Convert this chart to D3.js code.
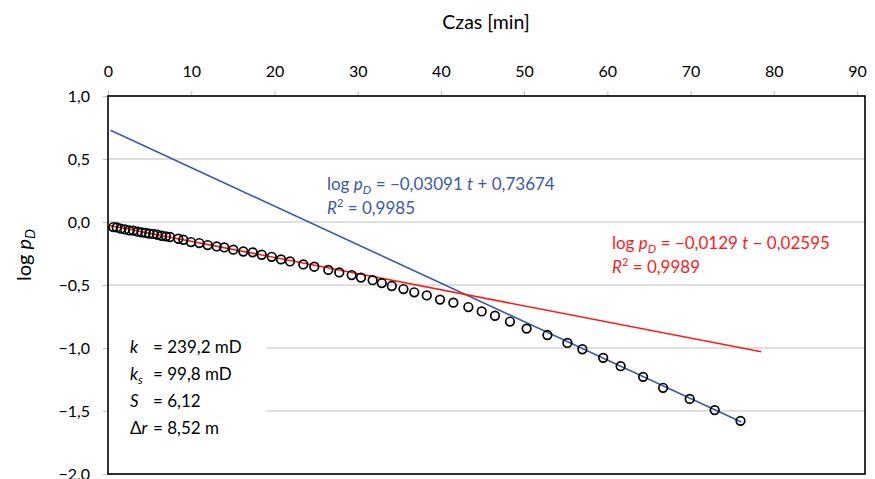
<!DOCTYPE html>
<html><head><meta charset="utf-8">
<script src="https://cdn.jsdelivr.net/npm/d3@7"></script>
<style>body{margin:0;background:#fff}svg{display:block}text{font-family:Lato,"Open Sans",sans-serif}</style>
</head><body>
<svg id="c" width="875" height="479"></svg>
<script>
// Data
const tMin = [0.64,1.05,1.53,2.04,2.56,3.04,3.57,4.05,4.53,4.96,5.44,5.92,6.45,6.97,7.45,
  8.45,9.05,9.97,10.97,11.98,13.06,13.97,15.06,16.26,17.39,18.47,19.67,20.79,21.87,
  23.47,24.79,26.47,27.79,29.28,30.40,31.80,32.90,34.10,35.50,36.80,38.30,39.90,41.50,43.30,
  44.90,46.50,48.30,50.30,52.80,55.20,57.00,59.50,61.60,64.30,66.70,69.90,72.90,76.00];
const logPD = [-0.040,-0.043,-0.053,-0.059,-0.067,-0.069,-0.077,-0.083,-0.087,-0.093,-0.095,-0.101,-0.109,-0.114,-0.119,
  -0.133,-0.141,-0.159,-0.167,-0.183,-0.194,-0.202,-0.220,-0.234,-0.241,-0.260,-0.276,-0.297,-0.313,
  -0.337,-0.355,-0.380,-0.400,-0.421,-0.441,-0.462,-0.485,-0.508,-0.532,-0.558,-0.583,-0.616,-0.640,-0.675,
  -0.710,-0.744,-0.790,-0.846,-0.897,-0.960,-1.010,-1.078,-1.144,-1.229,-1.316,-1.404,-1.493,-1.578];
// trend line end points [t, logPD]
const redTrend = [[0, -0.026], [78.5, -1.03]];
const blueTrend = [[0.3, 0.728], [76.1, -1.588]];
const xTicks = [0,10,20,30,40,50,60,70,80,90];
const yTicks = [1.0,0.5,0.0,-0.5,-1.0,-1.5,-2.0];

const svg = d3.select("#c");
const L = 108, R = 865, T = 96, B = 474;
const x = d3.scaleLinear().domain([0, 90]).range([L, 857]);
const y = d3.scaleLinear().domain([-2, 1]).range([B, T]);
const fmt = v => d3.format(".1f")(v).replace(".", ",");

// gridlines
svg.append("g").selectAll("line").data(yTicks).join("line")
  .attr("x1", L).attr("x2", R).attr("y1", d => y(d)).attr("y2", d => y(d))
  .attr("stroke", "#bfbfbf").attr("stroke-width", 1);

// y axis ticks + labels
const yAxis = d3.axisLeft(y).tickValues(yTicks).tickFormat(fmt).tickSize(5).tickPadding(13);
const gy = svg.append("g").attr("transform", `translate(${L},0)`).call(yAxis);
gy.select(".domain").remove();
gy.selectAll(".tick line").attr("stroke", "#bfbfbf");
gy.selectAll("text").attr("font-size", 16).attr("fill", "#000").attr("font-family", "Lato");

// top x axis
const xAxis = d3.axisTop(x).tickValues(xTicks).tickFormat(d3.format("d")).tickSize(5).tickPadding(14);
const gx = svg.append("g").attr("transform", `translate(0,${T})`).call(xAxis);
gx.select(".domain").remove();
gx.selectAll(".tick line").attr("stroke", "#bfbfbf");
gx.selectAll("text").attr("font-size", 16).attr("fill", "#000").attr("font-family", "Lato");

// plot frame
svg.append("rect").attr("x", L).attr("y", T).attr("width", R - L).attr("height", B - T)
  .attr("fill", "none").attr("stroke", "#000").attr("stroke-width", 1.6);

// parameter text box background (covers gridlines)
svg.append("rect").attr("x", L + 1).attr("y", 330).attr("width", 157).attr("height", 120).attr("fill", "#fff");

const line = d3.line().x(d => x(d[0])).y(d => y(d[1]));
svg.append("path").attr("d", line(blueTrend)).attr("stroke", "#3b58a8").attr("stroke-width", 1.6).attr("fill", "none");
svg.append("path").attr("d", line(redTrend)).attr("stroke", "#ff1a1a").attr("stroke-width", 1.6).attr("fill", "none");

svg.append("g").selectAll("circle").data(tMin).join("circle")
  .attr("cx", d => x(d)).attr("cy", (d, i) => y(logPD[i])).attr("r", 4.3)
  .attr("fill", "none").attr("stroke", "#000").attr("stroke-width", 1.7);

// titles
svg.append("text").attr("x", 486).attr("y", 29).attr("text-anchor", "middle")
  .attr("font-size", 19.5).text("Czas [min]");
const yt = svg.append("text").attr("transform", "translate(31,255) rotate(-90)")
  .attr("text-anchor", "middle").attr("font-size", 20);
yt.append("tspan").text("log ");
yt.append("tspan").attr("font-style", "italic").text("p");
yt.append("tspan").attr("font-style", "italic").attr("font-size", 14).attr("dy", 4).text("D");

function eq(xp, yp, color, parts) {
  const t = svg.append("text").attr("x", xp).attr("y", yp).attr("font-size", 17).attr("fill", color);
  parts.forEach(p => {
    const s = t.append("tspan").text(p.t);
    if (p.i) s.attr("font-style", "italic");
    if (p.sub) s.attr("font-size", 12).attr("dy", 4);
    if (p.sup) s.attr("font-size", 11).attr("dy", -7);
    if (p.back) s.attr("dy", p.back);
  });
}
const blue = "#3b58a8", red = "#ff1a1a";
eq(327, 190, blue, [{t:"log "},{t:"p",i:1},{t:"D",i:1,sub:1},{t:" = −0,03091 ",back:-4},{t:"t",i:1},{t:" + 0,73674"}]);
eq(327, 214, blue, [{t:"R",i:1},{t:"2",sup:1},{t:" = 0,9985",back:7}]);
eq(612, 249, red, [{t:"log "},{t:"p",i:1},{t:"D",i:1,sub:1},{t:" = −0,0129 ",back:-4},{t:"t",i:1},{t:" − 0,02595"}]);
eq(612, 273, red, [{t:"R",i:1},{t:"2",sup:1},{t:" = 0,9989",back:7}]);

// parameters
const params = [
  {n:"k", s:"", v:"= 239,2 mD"},
  {n:"k", s:"s", v:"= 99,8 mD"},
  {n:"S", s:"", v:"= 6,12"},
  {n:"Δ", s:"r", v:"= 8,52 m"}
];
params.forEach((p, i) => {
  const yy = 353 + i * 27;
  const t = svg.append("text").attr("x", 130).attr("y", yy).attr("font-size", 17);
  if (p.n === "Δ") { t.append("tspan").text("Δ"); t.append("tspan").attr("font-style","italic").text("r"); }
  else {
    t.append("tspan").attr("font-style", "italic").text(p.n);
    if (p.s) t.append("tspan").attr("font-style","italic").attr("font-size", 12).attr("dy", 4).text(p.s);
  }
  svg.append("text").attr("x", 153).attr("y", yy).attr("font-size", 17).text(p.v);
});
</script>
</body></html>
